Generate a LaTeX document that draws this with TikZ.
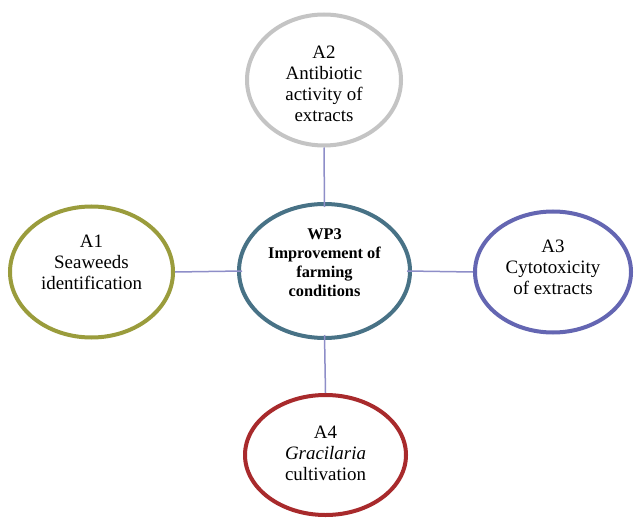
\documentclass[tikz,border=0pt]{standalone}
\usepackage{fontspec}
\setmainfont{Liberation Serif}
\usetikzlibrary{shapes.geometric,calc}
\definecolor{cgray}{HTML}{C4C4C4}
\definecolor{cteal}{HTML}{487286}
\definecolor{colive}{HTML}{9A9C3C}
\definecolor{cpurple}{HTML}{6466B2}
\definecolor{cred}{HTML}{A82A2C}
\definecolor{cline}{HTML}{8E8EC8}
\tikzset{
  ell/.style={ellipse, draw=#1, line width=4bp, inner sep=0pt, fill=white},
  txt/.style={align=center, inner sep=0pt, font=\fontsize{19}{21}\selectfont},
  btxt/.style={align=center, inner sep=0pt, font=\bfseries\fontsize{16.4}{19}\selectfont},
  conn/.style={draw=cline, line width=1.5bp}
}
\begin{document}
\begin{tikzpicture}[x=1bp,y=-1bp]
\useasboundingbox[fill=white] (0,0) rectangle (635,518);
\node[ell=cgray, minimum width=154bp, minimum height=131bp] (A2) at (324,80) {};
\node[ell=cteal, minimum width=171bp, minimum height=134bp] (WP) at (324.5,271) {};
\node[ell=colive, minimum width=163bp, minimum height=131bp] (A1) at (91.5,272) {};
\node[ell=cpurple, minimum width=156bp, minimum height=121bp] (A3) at (553,272) {};
\node[ell=cred, minimum width=161bp, minimum height=120bp] (A4) at (325.5,455) {};
\draw[conn] (A2.south) -- ($(WP.north)+(0,5)$);
\draw[conn] (A4.north) -- ($(WP.south)+(0,-5)$);
\draw[conn] (A1.east) -- ($(WP.west)+(5,0)$);
\draw[conn] (A3.west) -- ($(WP.east)+(-5,0)$);
\node[txt] (A2t) at (324,84) {A2\\Antibiotic\\activity of\\extracts};
\node[btxt] (WPt) at (324.5,263) {WP3\\Improvement of\\farming\\conditions};
\node[txt] (A1t) at (91.5,262) {A1\\Seaweeds\\identification};
\node[txt] (A3t) at (553,267) {A3\\Cytotoxicity\\of extracts};
\node[txt] (A4t) at (325.5,453) {A4\\\textit{Gracilaria}\\cultivation};
\end{tikzpicture}
\end{document}
